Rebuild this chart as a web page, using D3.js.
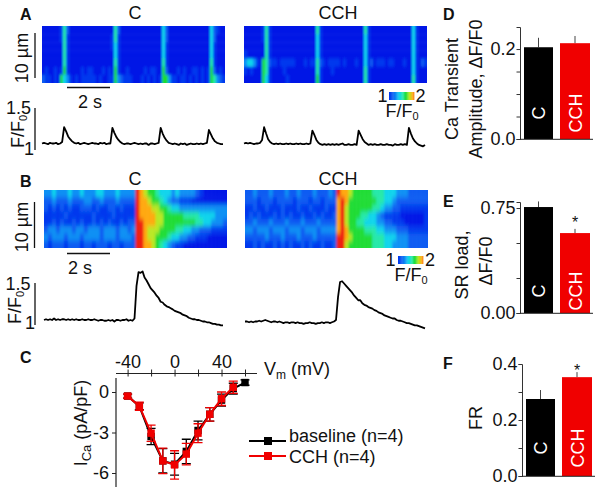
<!DOCTYPE html>
<html><head><meta charset="utf-8">
<script src="https://cdnjs.cloudflare.com/ajax/libs/d3/7.8.5/d3.min.js"></script>
<style>html,body{margin:0;padding:0;background:#fff}svg{display:block}text{font-family:"Liberation Sans",Arial,sans-serif;fill:#111}</style>
</head><body><svg id="c" width="602" height="494"></svg>
<script>
// ---------- DATA ----------
const heatLevels = [0,1,2,3,4,5,6,7,8,9];
const heatColors = ["#0016e6","#0038ee","#0a5cf2","#0c90f4","#10d4ec","#20e8a8","#1edc30","#b8e820","#ffa810","#ee1c0c"];

const scanAC = [
"0000001520000000000000005200000000000000420000000000000042100",
"0000001510000000000000015100000000000000420000000000000042000",
"0000000510000000000000014100000000000000410000000000000041000",
"0000000510000000000000004100000000000000410000000000000041000",
"0000000510000000000000005100000000000000510000000000000051000",
"0100101610000101100010106100100000101100620001010011010162010",
"2110106431010111110100116321110001010101663110110101010165321"];
const scanACCH = [
"0000001510000000000000005100000000000000510000000000000041000",
"0000001510000000000000004100000000000000410000000000000041000",
"0000000510000000000000004100000000000000410000000000000041000",
"1000000510000000000000004100000000000000410000000000000041000",
"3443106521101111100010115210111101000100412011101100010041021",
"1010006510000100000000005100010000000000510000000000000041000",
"0000006410000010000000006100000000000000510000000000000051000"];
const scanBC = [
"33433343343334433343333"+"98766544434333321000000",
"22322232223322322232222"+"98876654322111000000000",
"21212121122212112212111"+"98887766544333333333333",
"11111211111121111211111"+"98888776666655554444333",
"11212112121121212112122"+"99888776666666655443332",
"23323332332333233323323"+"99877766665544332221111",
"32333233323333233323332"+"99877666544332211100000",
"21222122212212221221222"+"99887654321100000000000"];
const scanBCCH = [
"22322232223223222322232"+"98876666655544433322222",
"22212221222212221221222"+"89866666665544322222222",
"11211211121112112111211"+"89766666655433221111111",
"12121112121211211212112"+"89766655443211110000001",
"22322232223222322232222"+"89766554443322111000001",
"33233323332333233323333"+"89866665554433322211111",
"22222322232223222322222"+"99876666655544433322222",
"11212112121211212112112"+"99766666655544333322222"];

const traceAC = [1.00,1.01,1.00,0.99,1.01,1.00,1.00,1.01,0.99,1.00,1.02,1.23,1.17,1.10,1.06,1.03,1.01,1.00,1.01,0.99,1.00,1.01,1.00,0.99,1.00,1.01,1.00,1.00,0.99,1.01,1.00,1.01,0.99,1.00,1.00,1.22,1.15,1.09,1.05,1.02,1.00,0.99,1.00,1.00,0.99,1.00,1.01,1.00,0.99,1.00,0.99,1.00,1.00,0.98,1.00,1.00,0.99,1.00,1.01,1.22,1.14,1.08,1.04,1.01,1.00,0.99,1.00,0.99,0.98,1.00,0.99,1.00,0.98,0.99,1.00,0.99,0.99,1.00,0.99,1.00,0.99,1.00,1.01,1.19,1.13,1.07,1.03,1.01,1.00,0.99,0.99];
const traceACCH = [1.00,1.01,1.00,1.01,1.00,0.99,1.00,1.00,1.01,1.05,1.23,1.14,1.06,1.02,1.00,0.99,1.00,0.99,1.00,0.99,0.99,1.00,0.99,1.00,0.99,0.99,1.00,0.99,1.00,0.99,0.99,1.00,0.99,1.00,1.18,1.12,1.05,1.01,0.99,0.98,0.99,0.98,0.99,0.98,0.99,0.98,0.99,0.98,0.99,1.00,0.98,0.98,0.99,0.98,0.98,0.99,0.98,1.18,1.12,1.06,1.02,1.00,0.98,0.99,0.98,0.99,0.98,0.98,0.99,0.98,0.98,0.99,0.98,0.98,0.97,0.99,0.98,0.98,0.99,0.98,0.99,0.98,1.22,1.14,1.07,1.03,1.00,0.98,0.97,0.96,0.98];
const traceBC = [1.00,1.01,1.00,1.01,1.00,1.02,1.00,1.01,1.00,1.01,1.01,1.00,1.01,1.00,1.01,1.00,1.01,1.00,1.00,1.01,1.00,1.00,1.01,1.00,1.00,1.01,1.00,0.99,1.00,1.00,0.99,0.99,1.00,0.99,1.00,0.98,1.00,1.00,0.99,1.00,1.00,1.01,0.99,1.00,0.99,1.02,1.45,1.63,1.62,1.64,1.56,1.52,1.47,1.42,1.39,1.36,1.32,1.29,1.24,1.23,1.20,1.18,1.17,1.155,1.14,1.12,1.11,1.10,1.09,1.07,1.06,1.05,1.03,1.02,1.01,1.01,1.00,1.00,0.99,0.98,0.98,0.97,0.97,0.96,0.95,0.95,0.94,0.94,0.93,0.93];
const traceBCCH = [0.98,0.98,0.97,0.98,0.97,0.98,0.98,0.99,0.98,0.99,1.00,0.99,0.98,0.97,0.98,0.98,0.97,0.98,0.97,0.96,0.97,0.97,0.96,0.97,0.97,0.96,0.97,0.96,0.96,0.95,0.96,0.96,0.97,0.96,0.96,0.95,0.96,0.96,0.97,0.96,0.97,0.97,0.96,0.97,0.98,1.00,1.30,1.50,1.51,1.48,1.45,1.42,1.39,1.36,1.32,1.29,1.26,1.26,1.22,1.20,1.19,1.17,1.16,1.15,1.13,1.12,1.10,1.09,1.08,1.06,1.05,1.04,1.03,1.02,1.02,1.00,0.99,0.99,0.98,0.97,0.96,0.96,0.95,0.94,0.93,0.93,0.92,0.91,0.90,0.89];

const voltages = [-40,-30,-20,-10,0,10,20,30,40,50,60];
const icaBaseline = [-0.3,-1.05,-3.3,-5.1,-5.35,-4.4,-2.85,-1.65,-0.6,0.25,0.7];
const icaBaselineErr = [0.15,0.25,0.6,0.9,0.8,0.9,0.7,0.5,0.45,0.4,0.2];
const voltagesCCH = [-40,-30,-20,-10,0,10,20,30,40,50];
const icaCCH = [-0.3,-1.05,-3.05,-5.1,-5.4,-4.6,-3.05,-1.65,-0.5,0.35];
const icaCCHErr = [0.15,0.3,0.6,0.95,1.05,0.8,0.7,0.5,0.5,0.45];

const barCats = ["C","CCH"];
const barColors = ["#000000","#f00000"];
const ampValues = [0.204,0.213], ampErr = [0.021,0.016];
const srValues = [0.757,0.571], srErr = [0.04,0.03];
const frValues = [0.275,0.353], frErr = [0.032,0.018];

const legendLabels = ["baseline (n=4)","CCH (n=4)"];

// ---------- HELPERS ----------
const svg = d3.select("#c");
const defs = svg.append("defs");
defs.append("filter").attr("id","blurA").attr("x","-10%").attr("y","-10%").attr("width","120%").attr("height","120%")
  .append("feGaussianBlur").attr("stdDeviation","1.1 1.6");
defs.append("filter").attr("id","blurB").attr("x","-10%").attr("y","-10%").attr("width","120%").attr("height","120%")
  .append("feGaussianBlur").attr("stdDeviation","1.2 2.6");
defs.append("filter").attr("id","soft").attr("x","-5%").attr("y","-20%").attr("width","110%").attr("height","140%")
  .append("feGaussianBlur").attr("stdDeviation","0.3");
const heat = d3.scaleLinear().domain(heatLevels).range(heatColors);

function label(x,y,txt,o={}){
  const t = svg.append("text").attr("font-size",o.size||18)
    .attr("text-anchor",o.anchor||"middle").attr("font-weight",o.bold?"bold":null)
    .attr("transform",`translate(${x},${y})`+(o.rot?` rotate(${o.rot})`:""));
  if(o.color) t.style("fill",o.color);
  (Array.isArray(txt)?txt:[txt]).forEach(p=>{
    if(typeof p==="string") t.append("tspan").text(p);
    else t.append("tspan").attr("dy",p.dy).attr("font-size",p.size).text(p.t);
  });
  return t;
}
let clipN=0;
function scan(x0,y0,w,h,rows,filter){
  const grid = rows.map(r=>Array.from(r,Number));
  const xs = d3.scaleBand().domain(d3.range(grid[0].length)).range([x0,x0+w]);
  const ys = d3.scaleBand().domain(d3.range(grid.length)).range([y0,y0+h]);
  const id="clip"+(clipN++);
  defs.append("clipPath").attr("id",id).append("rect").attr("x",x0).attr("y",y0).attr("width",w).attr("height",h);
  const g = svg.append("g").attr("clip-path",`url(#${id})`).append("g").attr("filter",`url(#${filter})`);
  const m=8, nr=grid.length, nc=grid[0].length;
  grid.forEach((row,r)=>row.forEach((v,c)=>{
    g.append("rect")
      .attr("x",xs(c)-(c===0?m:0)).attr("y",ys(r)-(r===0?m:0))
      .attr("width",xs.bandwidth()+0.4+(c===0||c===nc-1?m:0))
      .attr("height",ys.bandwidth()+0.4+(r===0||r===nr-1?m:0))
      .attr("fill",heat(v));
  }));
}
const lineGen = (x,y)=>d3.line().x((d,i)=>x(i)).y(d=>y(d));
function trace(x0,x1,vals,y){
  const x = d3.scaleLinear().domain([0,vals.length-1]).range([x0,x1]);
  svg.append("path").datum(vals).attr("d",lineGen(x,y)).attr("fill","none")
    .attr("stroke","#000").attr("stroke-width",1.8).attr("stroke-linejoin","round").attr("filter","url(#soft)");
}
function bar1(x1,y1,x2,y2,w=1.3,c="#111"){
  svg.append("line").attr("x1",x1).attr("y1",y1).attr("x2",x2).attr("y2",y2).attr("stroke",c).attr("stroke-width",w);
}
function colorbar(x,y,w,h){
  const steps = d3.range(1,8.3,0.25);
  const sx = d3.scaleBand().domain(steps).range([x,x+w]);
  svg.append("g").selectAll("rect").data(steps).join("rect")
    .attr("x",d=>sx(d)).attr("y",y).attr("width",sx.bandwidth()+0.4).attr("height",h)
    .attr("fill",d=>heat(d));
}
const ff0 = ["F/F",{t:"0",dy:3,size:11}];

// ---------- PANEL LETTERS / TITLES ----------
[["A",20,20],["B",20,187],["C",20,363],["D",443,20],["E",443,207],["F",443,369]]
  .forEach(d=>label(d[1],d[2],d[0],{bold:true,size:16,anchor:"start"}));
[["C",135,19],["CCH",338,19],["C",135,185],["CCH",338,185]].forEach(d=>label(d[1],d[2],d[0],{size:18}));

// ---------- LINE SCANS ----------
scan(42,26,183,57,scanAC,"blurA");
scan(244,26,183,57,scanACCH,"blurA");
scan(44,190,183,58,scanBC,"blurB");
scan(245,190,183,58,scanBCCH,"blurB");

// scale bars and labels
bar1(35,33,35,78); label(28,58,"10 µm",{rot:-90});
bar1(67,87.5,110,87.5); label(90,108,"2 s");
bar1(35,108,35,150);
label(18.5,114,"1.5"); label(24,148,ff0,{rot:-90,anchor:"start"}); label(29,155,"1");
bar1(34.5,202,34.5,248); label(28,227,"10 µm",{rot:-90});
bar1(67,253.5,110,253.5); label(80,274,"2 s");
bar1(35,283,35,325);
label(18,290,"1.5"); label(21,324,ff0,{rot:-90,anchor:"start"}); label(30,329,"1");

colorbar(389,92,25,8);
label(382.5,102,"1"); label(420.5,102,"2");
label(402,117,ff0,{size:18});
colorbar(398,256,25,8);
label(390.5,266,"1"); label(430,266,"2");
label(411,281,ff0,{size:18});

// ---------- TRACES ----------
const yA = d3.scaleLinear().domain([1,1.5]).range([143.5,108]);
const yB = d3.scaleLinear().domain([1,1.5]).range([320,282]);
trace(42,223,traceAC,yA);
trace(244,425,traceACCH,yA);
trace(44,223,traceBC,yB);
trace(245,425,traceBCCH,yB);

// ---------- PANEL C ----------
const xV = d3.scaleLinear().domain([-40,60]).range([127.6,245]);
const yI = d3.scaleLinear().domain([0,-6]).range([392,473]);
const topAxis = svg.append("g").attr("transform","translate(0,373.5)")
  .call(d3.axisTop(xV).tickValues([-40,-20,0,20,40,60]).tickSizeOuter(0).tickSize(4)
    .tickFormat(d=>[-40,0,40].includes(d)?d3.format("d")(d).replace("−","-"):""));
topAxis.select(".domain").attr("d","M116,0H257").attr("stroke","#222").attr("stroke-width",1.2);
topAxis.selectAll(".tick line").attr("y1",-4).attr("y2",3).attr("stroke","#222");
topAxis.selectAll("text").attr("font-size",18).attr("font-family",null).attr("y",-6).attr("dy",0);
label(264,375,["V",{t:"m",dy:4,size:12},{t:" (mV)",dy:-4,size:18}],{size:18,anchor:"start"});

const leftAxis = svg.append("g").attr("transform","translate(116,0)")
  .call(d3.axisLeft(yI).tickValues([0,-3,-6]).tickSizeOuter(0).tickSize(4).tickPadding(3)
    .tickFormat(d=>d3.format("d")(d).replace("−","-")));
leftAxis.select(".domain").attr("d","M0,378V487").attr("stroke","#222").attr("stroke-width",1.2);
leftAxis.selectAll(".tick line").attr("stroke","#222");
leftAxis.selectAll("text").attr("font-size",18);
label(87,423,["I",{t:"Ca",dy:4,size:13},{t:" (pA/pF)",dy:-4,size:18}],{rot:-90});

function series(vs,vals,errs,color){
  const g = svg.append("g");
  g.append("path").datum(vals).attr("d",d3.line().x((d,i)=>xV(vs[i])).y(d=>yI(d)))
    .attr("fill","none").attr("stroke",color).attr("stroke-width",2);
  vs.forEach((v,i)=>{
    const x=xV(v), hi=yI(vals[i]+errs[i]), lo=yI(vals[i]-errs[i]);
    g.append("path").attr("d",`M${x},${hi}V${lo}M${x-4.5},${hi}H${x+4.5}M${x-4.5},${lo}H${x+4.5}`)
      .attr("stroke",color).attr("stroke-width",1.3).attr("fill","none");
    g.append("rect").attr("x",x-3.7).attr("y",yI(vals[i])-3.7).attr("width",7.4).attr("height",7.4).attr("fill",color);
  });
}
series(voltages,icaBaseline,icaBaselineErr,"#000");
series(voltagesCCH,icaCCH,icaCCHErr,"#f00000");

legendLabels.forEach((t,i)=>{
  const y = [441,456][i], c = ["#000","#f00000"][i];
  bar1(249,y,286,y,2,c);
  svg.append("rect").attr("x",264).attr("y",y-4).attr("width",8).attr("height",8).attr("fill",c);
  label(289,[442,463][i],t,{size:18,anchor:"start"});
});

// ---------- BAR PANELS ----------
function barPanel(o){
  const y = d3.scaleLinear().domain([0,o.top]).range([o.y0,o.yTop]);
  const ax = svg.append("g").attr("transform",`translate(${o.ax},0)`)
    .call(d3.axisLeft(y).tickValues(o.ticks).tickSizeOuter(0).tickSize(3.5).tickPadding(1)
      .tickFormat(d=>o.major.includes(d)?d3.format(o.fmt)(d):""));
  ax.select(".domain").attr("stroke","#333").attr("stroke-width",1);
  ax.selectAll(".tick line").attr("stroke","#333");
  ax.selectAll("text").attr("font-size",18);
  o.vals.forEach((v,i)=>{
    const x0=o.xs[i][0], x1=o.xs[i][1], xm=(x0+x1)/2;
    bar1(xm,y(v),xm,y(v+o.errs[i]),1,"#444");
    svg.append("rect").attr("x",x0).attr("y",y(v)).attr("width",x1-x0).attr("height",o.y0-y(v)).attr("fill",barColors[i]);
    label(xm+6.5,o.labelY,barCats[i],{rot:-90,color:"#fff",size:18});
  });
  bar1(o.ax,o.y0+0.3,o.ax+73,o.y0+0.3,1,"#222");
}
barPanel({ax:520,y0:139,yTop:27,top:0.249,ticks:[0,0.05,0.1,0.15,0.2],major:[0,0.2],fmt:".1f",
  vals:ampValues,errs:ampErr,xs:[[524,553],[560,590]],labelY:113});
barPanel({ax:520,y0:313,yTop:202,top:0.793,ticks:[0,0.25,0.5,0.75],major:[0,0.75],fmt:".2f",
  vals:srValues,errs:srErr,xs:[[524,553],[560,590]],labelY:291});
barPanel({ax:522,y0:476,yTop:364,top:0.4,ticks:[0,0.1,0.2,0.3,0.4],major:[0,0.2,0.4],fmt:".1f",
  vals:frValues,errs:frErr,xs:[[526,555],[562,592]],labelY:448});

label(458,89,"Ca Transient",{rot:-90});
label(482,89,"Amplitude, ΔF/F0",{rot:-90});
label(468,265,"SR load,",{rot:-90});
label(492,261,"ΔF/F0",{rot:-90});
label(482,418,"FR",{rot:-90});
label(575,228,"*",{size:16});
label(577,376,"*",{size:16});
</script></body></html>
